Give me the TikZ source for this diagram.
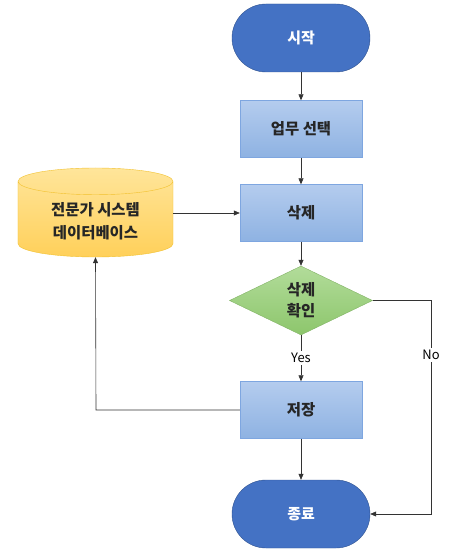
\documentclass[tikz,border=0pt]{standalone}
\usepackage{fontspec}
\setmainfont{Noto Sans CJK KR}
\usetikzlibrary{shapes.geometric,arrows.meta}

\definecolor{termblue}{HTML}{4472C4}
\definecolor{termline}{HTML}{2F528F}
\definecolor{boxtop}{HTML}{B4CCEE}
\definecolor{boxbot}{HTML}{8EB2E2}
\definecolor{boxline}{HTML}{7EA6E0}
\definecolor{dectop}{HTML}{B2DC9A}
\definecolor{decbot}{HTML}{8DC66C}
\definecolor{decline}{HTML}{82B366}
\definecolor{dbtop}{HTML}{FFE59A}
\definecolor{dbbot}{HTML}{FFD05A}
\definecolor{dbline}{HTML}{F2C12E}

\tikzset{
  term/.style={rectangle, rounded corners=34bp, fill=termblue, draw=termline,
    minimum width=138bp, minimum height=68bp, text=white,
    font=\fontsize{15}{18}\selectfont\bfseries},
  task/.style={rectangle, top color=boxtop, bottom color=boxbot, draw=boxline,
    minimum width=122bp, minimum height=57bp, text=black!85,
    font=\fontsize{15.5}{18}\selectfont\bfseries},
  check/.style={diamond, top color=dectop, bottom color=decbot, draw=decline,
    minimum width=143bp, minimum height=69bp, inner sep=0pt, text=black!85,
    align=center, font=\fontsize{15.5}{21}\selectfont\bfseries},
  store/.style={cylinder, shape border rotate=90, aspect=0.28,
    top color=dbtop, bottom color=dbbot, draw=dbline,
    minimum width=155bp, minimum height=89bp, text=black!85, align=center,
    font=\fontsize{15.5}{23}\selectfont\bfseries},
  flow/.style={draw=black!80, line width=0.6bp, -{Triangle[length=6bp,width=5bp]}},
  tag/.style={fill=white, inner sep=2bp, font=\fontsize{13}{15}\selectfont}
}

\begin{document}
\begin{tikzpicture}[x=1bp,y=-1bp]

  \useasboundingbox (0,0) rectangle (456,554);

  % Main column
  \node (start)  at (301,38)    [term]  {시작};
  \node (select) at (301,129)   [task]  {업무 선택};
  \node (delete) at (301,213)   [task]  {삭제};
  \node (ok)     at (301,300.5) [check] {삭제\\확인};
  \node (save)   at (301,410)   [task]  {저장};
  \node (stop)   at (301,514)   [term]  {종료};

  % Database
  \node (db) at (95.5,212.5) [store, anchor=shape center] {전문가 시스템\\데이터베이스};

  % Corners
  \coordinate (nocorner)   at (431,300.5);
  \coordinate (nobottom)   at (431,514);
  \coordinate (savecorner) at (96,410);

  % Connectors
  \draw[flow] (start) -- (select);
  \draw[flow] (select) -- (delete);
  \draw[flow] (delete) -- (ok);
  \draw[flow] (ok) -- node[tag] {Yes} (save);
  \draw[flow] (save) -- (stop);
  \draw[flow] (db.east |- delete) -- (delete);
  \draw[flow] (ok.east) -- (nocorner) -- node[tag, pos=0.255] {No} (nobottom) -- (stop.east);
  \draw[flow] (save.west) -- (savecorner) -- (db.bottom);

\end{tikzpicture}
\end{document}
